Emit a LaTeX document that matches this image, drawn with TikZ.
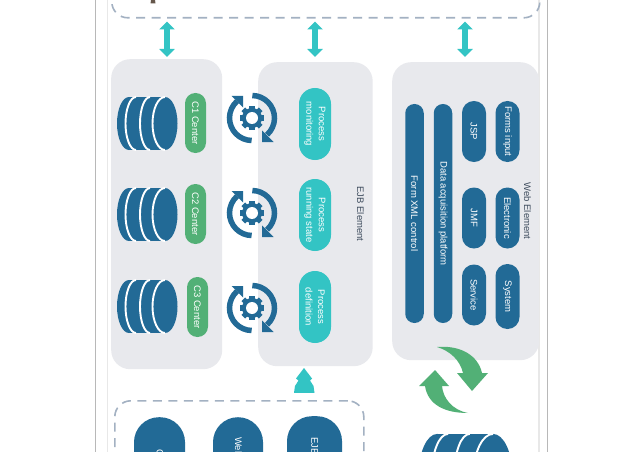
\documentclass[tikz,border=0pt]{standalone}
\usepackage{fontspec}
\setmainfont{Liberation Sans}
\usetikzlibrary{arrows.meta}
\definecolor{panelc}{HTML}{E8E9ED}
\definecolor{bluec}{HTML}{226A96}
\definecolor{tealc}{HTML}{33C4C4}
\definecolor{greenc}{HTML}{52B076}
\definecolor{dashc}{HTML}{A3B1C2}
\definecolor{labelc}{HTML}{3F4D5E}
\tikzset{
  panel/.style={fill=panelc,rounded corners=19pt,anchor=north west,inner sep=0pt},
  dashbox/.style={draw=dashc,line width=1.6pt,dash pattern=on 9pt off 6.5pt,rounded corners=16pt,anchor=north west,inner sep=0pt},
  pill/.style={rotate=-90,text=white,align=center,inner sep=0pt,font=\fontsize{9.5}{12.5}\selectfont},
  greenpill/.style={pill,fill=greenc,minimum width=60pt,minimum height=21pt,rounded corners=10.4pt},
  tealpill/.style={pill,fill=tealc,minimum width=72pt,minimum height=32pt,rounded corners=15.9pt},
  bluepill/.style={pill,fill=bluec,minimum height=24pt,rounded corners=11.9pt},
  slim/.style={pill,fill=bluec,minimum width=219pt,minimum height=18.5pt,rounded corners=9.1pt},
  bigpill/.style={fill=bluec,anchor=north,inner sep=0pt,minimum height=90pt,rounded corners=25pt},
  sidelabel/.style={rotate=-90,text=labelc,inner sep=0pt,font=\fontsize{9.5}{12}\selectfont},
  biglabel/.style={rotate=-90,anchor=west,text=white,inner sep=0pt,font=\fontsize{9.5}{12}\selectfont},
  fatarrow/.style={draw=tealc,line width=6.2pt,{Triangle[length=8pt,width=15pt]}-{Triangle[length=8pt,width=15pt]}},
  guide/.style={line width=1pt},
  dbstack/.pic={
    \fill[bluec] (-36,26.5) rectangle (0,-26.5);
    \fill[bluec] (-36,0) ellipse [x radius=12,y radius=26.5];
    \fill[bluec] (0,0) ellipse [x radius=12.5,y radius=26.5];
    \draw[white,line width=1.9pt] (-29,26.5) arc [start angle=90,end angle=270,x radius=10.5,y radius=26.5];
    \draw[white,line width=1.9pt] (-15,26.5) arc [start angle=90,end angle=270,x radius=10,y radius=26.5];
    \draw[white,line width=1.9pt] (0,26.5) arc [start angle=90,end angle=270,x radius=12.5,y radius=26.5];
  },
  syncgear/.pic={
    \draw[bluec,line width=5.5pt] (89:22.5) arc [start angle=89,end angle=-48,radius=22.5];
    \fill[bluec] (10,-24) -- (21.5,-24) -- (10,-12.5) -- cycle;
    \draw[bluec,line width=5.5pt] (-91:22.5) arc [start angle=-91,end angle=-228,radius=22.5];
    \fill[bluec] (-9,22) -- (-20.5,22) -- (-9,10.5) -- cycle;
    \foreach \a in {0,45,...,315}{
      \fill[bluec,rotate=\a] (-2.6,8) rectangle (2.6,12.3);
    }
    \fill[bluec] (0,0) circle (10);
    \fill[white] (0,0) circle (6);
  }
}
\begin{document}
\begin{tikzpicture}[x=1pt,y=1pt]
\useasboundingbox (0,-452) rectangle (643,0);
\fill[white] (0,-452) rectangle (643,0);
% page guides
\draw[guide,draw=black!28] (95.5,0) -- (95.5,-452);
\draw[guide,draw=black!9,line width=1.3pt] (107.5,0) -- (107.5,-452);
\draw[guide,draw=black!9,line width=1.3pt] (539,0) -- (539,-452);
\draw[guide,draw=black!28] (547.5,0) -- (547.5,-452);
% panels
\node[panel,minimum width=111pt,minimum height=310pt] (leftp) at (111,-59) {};
\node[panel,minimum width=114.5pt,minimum height=304pt] (midp) at (258,-62) {};
\node[panel,minimum width=147pt,minimum height=298pt] (rightp) at (392,-62) {};
% dashed boxes (run past the page)
\node[dashbox,minimum width=428pt,minimum height=120pt] (topbox) at (111,103) {};
\node[dashbox,minimum width=249pt,minimum height=120pt] (botbox) at (114,-400) {};
\fill[labelc!80!orange] (151,0) -- (155,0) -- (155.5,-3.5) -- (150.5,-3.5) -- cycle;
% double arrows
\coordinate (a1) at (167,-21.5); \coordinate (b1) at (167,-57);
\coordinate (a2) at (315,-21.5); \coordinate (b2) at (315,-57);
\coordinate (a3) at (465,-21.5); \coordinate (b3) at (465,-57);
\draw[fatarrow] (a1) -- (b1);
\draw[fatarrow] (a2) -- (b2);
\draw[fatarrow] (a3) -- (b3);
% up arrow
\fill[tealc] (304,-368) -- (296,-378.5) -- (298.5,-380.5) -- (295,-386) -- (294,-392.8) -- (314.5,-392.8) -- (313.5,-386) -- (310,-380.5) -- (312,-378.5) -- cycle;
% stacks
\pic at (165,-123.5) {dbstack};
\pic at (165,-214.5) {dbstack};
\pic at (165,-306.5) {dbstack};
\pic[scale=1.55] at (493,-475) {dbstack};
% centers
\node[greenpill] (c1) at (195.5,-123) {C1 Center};
\node[greenpill] (c2) at (195.5,-214) {C2 Center};
\node[greenpill] (c3) at (197.5,-307) {C3 Center};
% sync icons
\pic at (252,-118) {syncgear};
\pic at (252,-213) {syncgear};
\pic at (252,-308) {syncgear};
% process pills
\node[tealpill] (p1) at (315,-124) {Process\\monitoring};
\node[tealpill] (p2) at (315,-215) {Process\\running state};
\node[tealpill] (p3) at (315,-307) {Process\\definition};
\node[sidelabel] (ejb) at (360.5,-214) {EJB Element};
\node[sidelabel] (web) at (527.5,-211) {Web Element};
% web element pills
\node[slim] (fx) at (414.5,-213.5) {Form XML control};
\node[slim] (da) at (443,-213.5) {Data acquisition platform};
\node[bluepill,minimum width=61pt] (jsp) at (474,-131.5) {JSP};
\node[bluepill,minimum width=61pt] (fi) at (507.5,-131.5) {Forms input};
\node[bluepill,minimum width=61pt] (jmf) at (474,-218) {JMF};
\node[bluepill,minimum width=61pt] (el) at (507.5,-218) {Electronic};
\node[bluepill,minimum width=61pt] (sv) at (474,-295) {Service};
\node[bluepill,minimum width=65pt] (sy) at (507.5,-296.5) {System};
% green cycle arrows
\fill[greenc] (437,-347) .. controls (460,-345) and (478,-355) .. (482,-373) -- (488,-373) -- (472,-391) -- (457,-373) -- (463,-373) .. controls (460,-360) and (450,-351) .. cycle;
\fill[greenc] (468,-413) .. controls (445,-413) and (428,-405) .. (425,-386) -- (419,-386) -- (435,-370) -- (449,-386) -- (442,-386) .. controls (443,-398) and (452,-410) .. cycle;
% bottom pills
\node[bigpill,minimum width=51pt] (bp1) at (159.5,-417) {};
\node[bigpill,minimum width=50pt] (bp2) at (238,-417) {};
\node[bigpill,minimum width=55pt] (bp3) at (314.5,-416) {};
\node[biglabel] (bt1) at (160,-449) {C};
\node[biglabel] (bt2) at (238.5,-437) {Web};
\node[biglabel] (bt3) at (314.5,-437) {EJB};
\end{tikzpicture}
\end{document}
